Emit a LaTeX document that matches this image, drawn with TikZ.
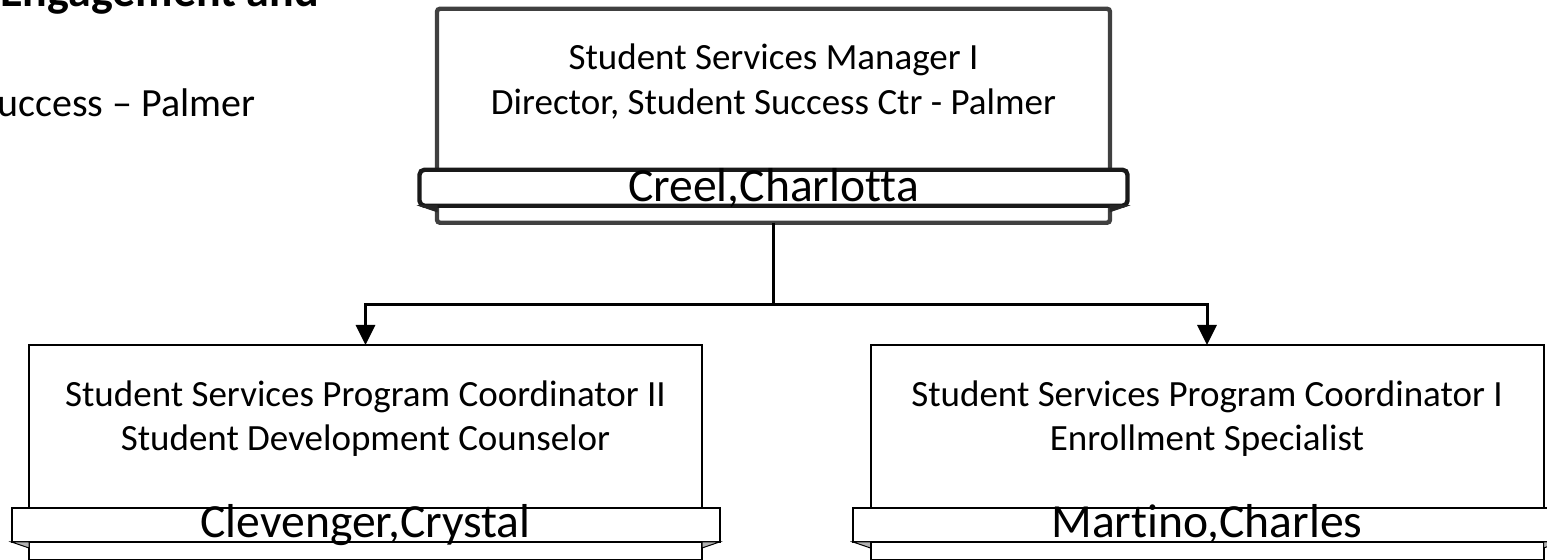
\documentclass[tikz,border=0pt]{standalone}
\usepackage{fontspec}
\setmainfont{Carlito}[Ligatures=NoCommon]
\usetikzlibrary{arrows.meta, positioning}

\begin{document}
\begin{tikzpicture}[
    x=0.5pt, y=-0.5pt,
    card/.style={rectangle, draw=black, line width=1pt, fill=white, minimum width=336.5pt, minimum height=107.5pt, inner sep=0pt, outer sep=0pt},
    headcard/.style={card, draw=black!75, line width=2.2pt, rounded corners=1.5pt, minimum height=107pt},
    title/.style={align=center, inner sep=0pt, font=\fontsize{18.5}{22.3}\selectfont},
    namebar/.style={rectangle, draw=black, line width=1pt, fill=white, minimum width=354pt, minimum height=17pt, inner sep=0pt, outer sep=0pt, text height=13pt, text depth=0pt, font=\fontsize{23.8}{28}\selectfont},
    headbar/.style={namebar, draw=black!90, line width=2.2pt, rounded corners=2.5pt, minimum height=18pt, text height=13.5pt},
    fold/.style={fill=black!30, draw=black, line width=0.5pt},
    headfold/.style={fill=black!85, draw=black!85, line width=0.5pt},
    link/.style={line width=1.5pt},
    arrow/.style={-{Triangle[width=9.5pt, length=10pt]}, line width=1.5pt}
]
    \path[use as bounding box, clip] (0,0) rectangle (1547,560);

    % Page heading (cut at the edges)
    \node[anchor=base west, inner sep=0pt, font=\fontsize{23}{28}\selectfont\bfseries] (dept) at (0,7) {Engagement and};
    \node[anchor=base west, inner sep=0pt, font=\fontsize{20}{24}\selectfont] (campus) at (-3,117) {uccess – Palmer};

    % Cards
    \node[headcard] (creel) at (773.5,115.75) {};
    \node[card] (clevenger) at (365.5,452.5) {};
    \node[card] (martino) at (1207,452.5) {};

    % Titles
    \node[title, below=17.5pt of creel.north] (creeltitle) {Student Services Manager I\\Director, Student Success Ctr - Palmer};
    \node[title, below=17.5pt of clevenger.north] (clevengertitle) {Student Services Program Coordinator II\\Student Development Counselor};
    \node[title, below=17.5pt of martino.north] (martinotitle) {Student Services Program Coordinator I\\Enrollment Specialist};

    % Name bars
    \node[headbar, above=8.5pt of creel.south] (creelbar) {Creel,Charlotta};
    \node[namebar, above=9pt of clevenger.south] (clevengerbar) {Clevenger,Crystal};
    \node[namebar, above=9pt of martino.south] (martinobar) {Martino,Charles};

    \filldraw[headfold] (creelbar.south west) -- (creel.west |- creelbar.south) -- ++(0,6) -- cycle;
    \filldraw[headfold] (creelbar.south east) -- (creel.east |- creelbar.south) -- ++(0,6) -- cycle;
    \filldraw[fold] (clevengerbar.south west) -- (clevenger.west |- clevengerbar.south) -- ++(0,6) -- cycle;
    \filldraw[fold] (clevengerbar.south east) -- (clevenger.east |- clevengerbar.south) -- ++(0,6) -- cycle;
    \filldraw[fold] (martinobar.south west) -- (martino.west |- martinobar.south) -- ++(0,6) -- cycle;
    \filldraw[fold] (martinobar.south east) -- (martino.east |- martinobar.south) -- ++(0,6) -- cycle;

    % Connectors
    \coordinate (split) at (773.5,305);
    \draw[link] (creel.south) -- (split);
    \draw[arrow] (split) -| (clevenger.north);
    \draw[arrow] (split) -| (martino.north);
\end{tikzpicture}
\end{document}
